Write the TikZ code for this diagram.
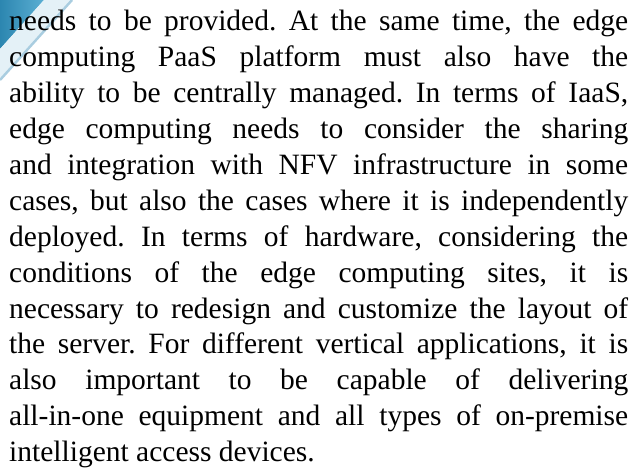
\documentclass[tikz,border=0pt]{standalone}
\usepackage{fontspec}
\setmainfont{Liberation Serif}
\definecolor{darkband}{HTML}{2C86B0}
\definecolor{midband}{HTML}{5BAFD3}
\definecolor{paleband}{HTML}{E4F1F7}
\definecolor{lightline}{HTML}{A9CDE0}
\tikzset{
  bodytext/.style={anchor=base west, inner sep=0pt, text width=619bp, align=justify,
    font=\fontsize{29.5bp}{35.92bp}\selectfont}
}
\begin{document}
\begin{tikzpicture}[x=1bp,y=1bp]
\useasboundingbox (0,0) rectangle (636,468);
\fill[white] (0,0) rectangle (636,468);
\shade[left color=darkband, right color=midband] (0,468) -- (44,468) -- (0,419) -- cycle;
\fill[paleband] (44,468) -- (70,468) -- (0,390) -- (0,419) -- cycle;
\draw[lightline, line width=2.5bp] (72,468) -- (0,388);
\node[bodytext] (para) at (9,437.3) {\frenchspacing\tolerance=10000\hbadness=10000\hyphenpenalty=10000\exhyphenpenalty=10000%
needs to be provided. At the same time, the edge\linebreak
computing PaaS platform must also have the\linebreak
ability to be centrally managed. In terms of IaaS,\linebreak
edge computing needs to consider the sharing\linebreak
and integration with NFV infrastructure in some\linebreak
cases, but also the cases where it is independently\linebreak
deployed. In terms of hardware, considering the\linebreak
conditions of the edge computing sites, it is\linebreak
necessary to redesign and customize the layout of\linebreak
the server. For different vertical applications, it is\linebreak
also important to be capable of delivering\linebreak
all-in-one equipment and all types of on-premise\linebreak
intelligent access devices.};
\end{tikzpicture}
\end{document}
